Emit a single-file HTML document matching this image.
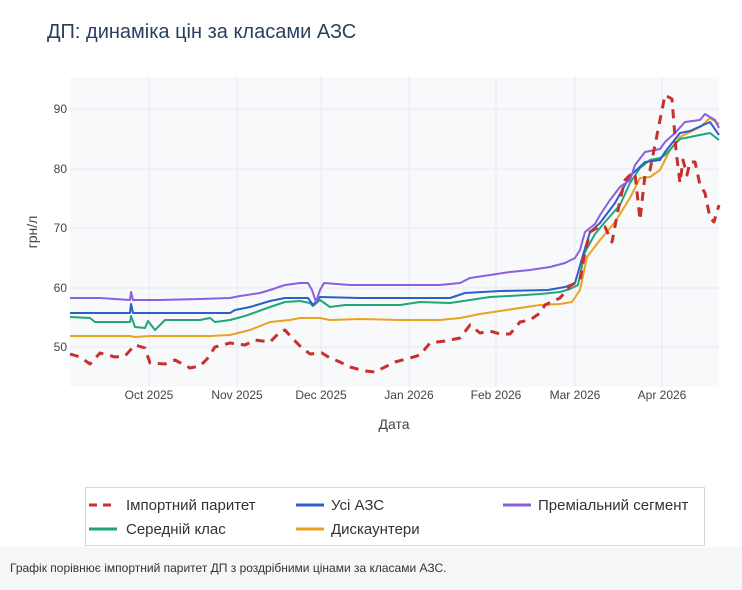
<!DOCTYPE html>
<html><head><meta charset="utf-8"><style>
body{margin:0;width:742px;height:590px;background:#fff;overflow:hidden;font-family:"Liberation Sans",sans-serif;position:relative}
.foot{position:absolute;left:0;top:547px;width:742px;height:43px;background:#f5f6f8;font-size:12px;color:#333}
</style></head><body>
<svg width="742" height="547" style="position:absolute;left:0;top:0" font-family="Liberation Sans, sans-serif">
<text x="47" y="38" font-size="20" fill="#2a3f5f">ДП: динаміка цін за класами АЗС</text>
<rect x="70" y="77" width="649" height="310" fill="#f8f9fb"/>
<g stroke="#e6e9f0" stroke-width="1">
<line x1="70" x2="719" y1="109" y2="109"/><line x1="70" x2="719" y1="169" y2="169"/><line x1="70" x2="719" y1="228" y2="228"/><line x1="70" x2="719" y1="288" y2="288"/><line x1="70" x2="719" y1="347" y2="347"/>
<line x1="149" x2="149" y1="77" y2="387"/><line x1="237" x2="237" y1="77" y2="387"/><line x1="321" x2="321" y1="77" y2="387"/><line x1="409" x2="409" y1="77" y2="387"/><line x1="496" x2="496" y1="77" y2="387"/><line x1="575" x2="575" y1="77" y2="387"/><line x1="662" x2="662" y1="77" y2="387"/>
</g>
<g font-size="12" fill="#444" text-anchor="end">
<text x="67" y="113">90</text><text x="67" y="173">80</text><text x="67" y="232">70</text><text x="67" y="292">60</text><text x="67" y="351">50</text>
</g>
<g font-size="12" fill="#444" text-anchor="middle">
<text x="149" y="399">Oct 2025</text><text x="237" y="399">Nov 2025</text><text x="321" y="399">Dec 2025</text><text x="409" y="399">Jan 2026</text><text x="496" y="399">Feb 2026</text><text x="575" y="399">Mar 2026</text><text x="662" y="399">Apr 2026</text>
</g>
<text x="394" y="429" font-size="14" fill="#444" text-anchor="middle">Дата</text>
<text transform="translate(37,232) rotate(-90)" font-size="14" fill="#444" text-anchor="middle">грн/л</text>
<g fill="none" stroke-width="2" stroke-linejoin="round">
<polyline stroke="#e9a320" points="70,336 130,336 135,337 150,336 210,336 230,335 250,330 270,322 290,320 300,318 320,318 330,320 360,319 400,320 440,320 460,318 480,314 500,311 520,308 540,305 560,304 572,302 580,290 587,257 600,240 615,222 630,198 640,178 650,177 660,170 670,150 680,137 700,127 710,118 719,124"/>
<polyline stroke="#1fa67a" points="70,317 90,318 95,322 130,322 131,316 135,327 145,328 148,321 155,330 165,320 200,320 210,318 215,322 230,320 245,316 270,307 285,302 300,301 310,303 313,306 320,300 330,307 345,305 400,305 420,302 450,303 470,300 490,297 510,296 540,294 560,292 570,289 578,285 585,252 595,234 605,222 620,205 630,183 640,168 650,160 660,158 665,155 680,139 690,137 710,133 719,140"/>
<polyline stroke="#2c5fc8" points="70,313 130,313 131,304 133,313 230,313 235,310 250,307 270,301 285,298 308,298 313,305 320,297 360,298 450,298 465,293 500,291 548,290 565,287 575,283 583,255 590,232 600,223 615,203 630,176 645,162 660,160 665,152 680,133 690,131 710,122 719,135"/>
<polyline stroke="#8a5fe0" points="70,298 100,298 130,300 131,292 133,300 160,300 200,299 230,298 240,296 260,293 270,290 285,285 300,283 308,283 312,290 316,302 320,290 324,283 350,285 440,285 460,283 470,278 490,275 510,272 530,270 550,267 565,263 575,258 580,250 585,232 595,224 600,215 610,200 620,187 630,180 635,165 645,152 660,149 665,142 675,133 685,122 700,120 705,114 715,120 719,128"/>
<polyline stroke="#c8302e" stroke-width="3" stroke-dasharray="9,7" points="70,354 80,357 90,364 100,353 115,357 125,356 135,345 145,348 150,363 165,364 175,360 190,368 200,366 207,359 215,347 230,343 245,345 255,340 270,342 280,332 285,330 292,338 300,346 310,354 322,353 330,358 340,362 350,367 365,371 375,372 385,367 395,362 410,358 420,355 430,343 445,341 460,338 470,325 480,333 490,331 500,334 510,334 520,322 530,320 540,313 545,305 560,298 570,286 580,280 585,252 590,232 600,226 605,227 612,242 620,200 625,180 630,175 635,173 640,220 645,175 650,170 660,120 665,95 672,99 676,150 680,183 683,160 687,175 690,162 695,162 700,185 705,193 710,218 714,222 719,205"/>
</g>
<rect x="85.5" y="487.5" width="619" height="58" fill="#fff" stroke="#d8d8d8"/>
<g stroke-width="3">
<line x1="89" x2="117" y1="505" y2="505" stroke="#c8302e" stroke-dasharray="8,6"/>
<line x1="296" x2="324" y1="505" y2="505" stroke="#2c5fc8"/>
<line x1="503" x2="531" y1="505" y2="505" stroke="#8a5fe0"/>
<line x1="89" x2="117" y1="529" y2="529" stroke="#1fa67a"/>
<line x1="296" x2="324" y1="529" y2="529" stroke="#e9a320"/>
</g>
<g font-size="15" fill="#333">
<text x="126" y="510">Імпортний паритет</text><text x="331" y="510">Усі АЗС</text><text x="538" y="510">Преміальний сегмент</text>
<text x="126" y="534">Середній клас</text><text x="331" y="534">Дискаунтери</text>
</g>
</svg>
<div class="foot"><div style="position:absolute;left:10px;top:14px">Графік порівнює імпортний паритет ДП з роздрібними цінами за класами АЗС.</div></div>
</body></html>
